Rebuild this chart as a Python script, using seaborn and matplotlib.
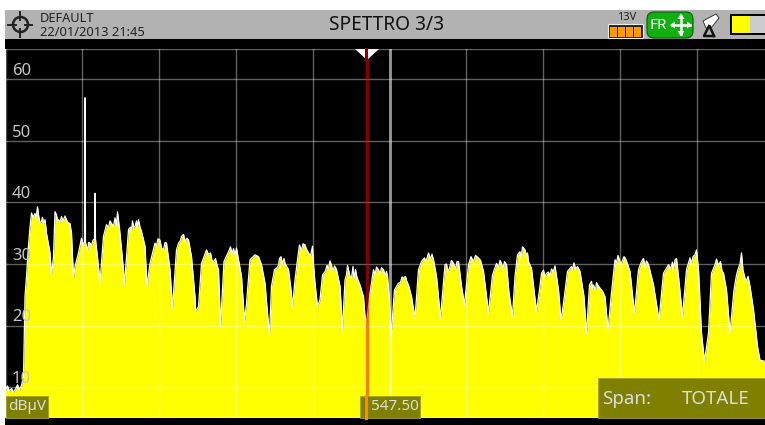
import matplotlib
matplotlib.use("Agg")
import matplotlib.pyplot as plt
from matplotlib.patches import Rectangle, Circle, FancyBboxPatch, Polygon
import seaborn as sns
import numpy as np
import pandas as pd

# trace: column of the display, level in dBuV
columns = [0, 2, 4, 6, 8, 10, 12, 14, 16, 18, 19.5, 21, 23, 24.5, 26, 29.5, 32, 36, 39.5, 41, 44.5, 46, 48, 49.5,
           53, 56, 59.5, 64.5, 66, 68, 69.5, 73, 76, 79, 79.5, 80, 81, 84.5, 89, 89.5, 90, 93, 94.5, 98, 101, 106,
           112, 114.5, 118, 119, 123, 127, 129.5, 133, 136, 139.5, 141.5, 144.5, 149.5, 154.5, 158, 161, 164.5,
           167, 171, 176, 183, 186, 189.5, 190, 193, 196, 201, 208, 213, 215, 218.5, 223, 228, 233, 236, 239, 241,
           244.5, 249.5, 253, 256, 259.5, 262, 264, 266, 269, 271, 275.5, 279.5, 283, 285.5, 287, 289.5, 292, 294,
           299.5, 303, 307, 308, 309.5, 312, 314.5, 317, 323, 324.5, 331, 334.5, 337, 339.5, 343, 346, 350, 354.5,
           358, 359.5, 361, 364.5, 368, 373, 378, 382, 384, 385.5, 389, 393, 398, 403, 406, 409.5, 413, 416, 423,
           428, 431, 435, 439.5, 444.5, 448, 453, 456, 459, 463, 465.5, 473, 478, 481, 483, 487, 491, 496, 501,
           503.5, 507, 509.5, 512, 514.5, 519.5, 523, 526, 528.5, 531, 534, 536, 541, 549.5, 553, 555.5, 558, 562,
           568.5, 574.5, 578.5, 581, 584, 588, 593, 599.5, 602.5, 606, 609.5, 614.5, 618.5, 624.5, 629, 633, 636,
           643, 648, 653.5, 658, 663, 669.5, 673, 677, 681, 684.5, 689.5, 693, 696, 699, 703, 706, 709.5, 718, 721,
           724.5, 728.5, 734.5, 739.5, 744.5, 748, 752, 754.5, 759.5]
levels = [9.6, 10.2, 9.4, 9.8, 9.2, 9.7, 10.4, 9.6, 10.3, 11.7, 24.7, 28, 33, 36, 38.3, 38.2, 39.3, 37, 37.2, 35,
          31.8, 28.2, 31.2, 38.5, 37.2, 37.7, 37.8, 36.6, 35, 27.7, 29.6, 31.8, 34.2, 33.5, 57, 33.5, 32.9, 33.4,
          34, 41.5, 34, 29.6, 26.9, 34.5, 36.4, 36.6, 38.5, 35, 29, 26.6, 35.6, 37, 36.1, 37.2, 35.3, 32.9, 26.4,
          30.1, 33.4, 33.9, 32.3, 33.4, 29.1, 22.8, 32.3, 34.5, 33.9, 31.2, 24.7, 22.3, 23.1, 30.1, 32.3, 30.4,
          29.1, 19.9, 30.4, 32, 32.5, 30.7, 28, 20.7, 23.6, 30.7, 31.5, 31.2, 29.9, 26.9, 22, 18.5, 26.4, 29.1,
          29.3, 31.2, 30.1, 29.1, 25.8, 23.1, 27.4, 30.7, 33.1, 33.1, 31.8, 32.9, 30, 26.9, 23.1, 24.2, 28.2,
          29.3, 30.5, 29.1, 26.4, 19.3, 27.4, 29.1, 27.7, 29.1, 26.6, 24.7, 21.5, 20.4, 25.3, 29.1, 29.1, 29.1,
          28, 24.2, 18.2, 25.8, 26.9, 27.7, 26.6, 24.7, 21.2, 29.1, 30.4, 31.8, 30.7, 28, 21.2, 29.9, 29.6, 30.1,
          30.4, 26.4, 23.4, 29.9, 31.2, 31, 28.8, 24.7, 22.1, 28.2, 30.1, 30.1, 29.9, 25.3, 21.5, 28, 31.5, 32,
          32.3, 30.4, 29.3, 25.8, 22.3, 25.8, 28.5, 28.5, 29.7, 25.8, 20.9, 23.6, 28.8, 30.2, 28.8, 24.7, 18.7,
          26.6, 26.6, 26.4, 24.7, 19.3, 25.3, 30.7, 30.4, 31.2, 28.8, 22, 29.1, 30.4, 29.9, 26.6, 20.9, 28.5,
          29.9, 30.7, 28, 21.5, 29.1, 31, 31.5, 29.1, 18.8, 14.2, 18.8, 28.5, 29.9, 28.5, 25.8, 18.8, 25.8, 30,
          27.7, 26.4, 22.6, 16.6, 14.4, 14.2]

# the small ripple along the top of each channel
ripple_columns = [27.5, 30.5, 33, 34.5, 37, 38, 51, 52, 54.5, 57.5, 61, 62.5, 77.5, 82.5, 83, 86, 87.5, 103, 104.5,
                  108, 109.5, 111, 125, 126, 128, 131, 132, 134.5, 151, 152.5, 156, 159.5, 173, 175, 178, 180, 181.5,
                  203, 205, 206.5, 210, 211.5, 225, 226.5, 229.5, 231, 273, 274, 277, 278.5, 296, 297.5, 301, 305,
                  320, 321.5, 326, 327.5, 329, 341, 342, 344.5, 347.5, 348.5, 351.5, 369.5, 371, 374.5, 376, 379.5,
                  381, 395, 396.5, 400, 401.5, 419, 420.5, 425, 426.5, 441, 442.5, 446, 450, 451.5, 468, 470, 475,
                  476, 489, 493, 494.5, 497.5, 499, 515.5, 517, 521, 522, 538, 539.5, 543, 544.5, 546, 548, 564, 566,
                  567, 570, 572, 586, 587, 590, 591, 595, 597, 611, 612.5, 616, 617.5, 620, 622, 638, 639.5, 641, 665,
                  667, 668, 671, 686, 687.5, 691, 711, 713, 715, 716.5, 731, 733, 736, 737.5, 741, 742.5]
ripple_levels = [37.6, 37.4, 38, 36.6, 37.6, 36.5, 38, 37, 36.8, 37, 37.2, 36.7, 33.3, 32.2, 33.5, 33, 33.9, 35.9, 37,
                 36.1, 37.5, 36.4, 36, 35.2, 36, 37, 35.8, 36, 33, 34.1, 32.6, 33.5, 33.4, 33.8, 34.8, 33.6, 34.2,
                 31.6, 31.8, 30.6, 30.9, 29.8, 32.8, 31.6, 31.5, 32.6, 29.8, 30.9, 30, 30.9, 32.2, 33.3, 32.4, 31.3,
                 28.9, 29.8, 29.8, 28.8, 29.7, 28.3, 29.8, 28, 29.6, 27.6, 27.8, 28.2, 29.5, 28.4, 29.4, 28.2, 28.8,
                 27, 27.9, 28, 27.1, 31, 30.4, 30.8, 31.6, 30, 28.7, 30.6, 29.2, 30.4, 30.4, 31.4, 30.6, 30, 29.2,
                 29.4, 30.6, 29.2, 30.4, 30.9, 32.8, 31.3, 31.8, 29, 27.9, 28.7, 28, 29.2, 28.8, 29.2, 29.6, 29, 29.2,
                 29.6, 27.2, 26, 25.7, 27, 26, 25.6, 30.2, 31.4, 30.1, 30.8, 30.9, 30, 30.9, 29.6, 30.5, 29.2, 30.3,
                 29, 30.9, 30.1, 31.2, 32.3, 30.8, 29.8, 30.4, 28.9, 28.2, 29.4, 31.8, 29, 27.2, 28]

y_ticks = [10, 20, 30, 40, 50, 60]
grid_columns = [76, 153, 230, 307, 460, 537, 614, 691]
centre_column = 384.5
marker_column = 361
marker_label = "547.50"
unit_label = "dBµV"

trace = pd.DataFrame({"column": columns + ripple_columns, "level": levels + ripple_levels}).sort_values("column")

W, H = 765, 425
FONT = ["Noto Sans", "DejaVu Sans"]
plt.rcParams["font.family"] = FONT

fig = plt.figure(figsize=(W / 100, H / 100), dpi=100, facecolor="white")

# plot area, black with the level scale running 5 to 65
ax = fig.add_axes([5.5 / W, 1 - 418 / H, (W - 5.5) / W, (418 - 48.5) / H])
ax.set_facecolor("black")
ax.set_xlim(0, W - 5.5)
ax.set_ylim(5, 65)
for s in ax.spines.values():
    s.set_visible(False)
ax.set_xticks([])
ax.set_yticks([])

ax.fill_between(trace["column"], trace["level"], 0, color="#ffff00", lw=0, zorder=2)
sns.lineplot(data=trace, x="column", y="level", color="white", lw=0.9, ax=ax, zorder=3, legend=False,
             estimator=None, sort=False)
ax.set_xlabel("")
ax.set_ylabel("")

for c in grid_columns:
    ax.axvline(c, color="white", alpha=0.38, lw=1, zorder=4)
for v in y_ticks:
    ax.axhline(v, color="white", alpha=0.38, lw=1, zorder=4)
ax.axhline(64.9, color="white", alpha=0.38, lw=1, zorder=4)
ax.axhline(5.1, color="white", alpha=0.5, lw=1, zorder=4)
ax.axvline(0, color="white", alpha=0.3, lw=1, zorder=4)
ax.axvline(centre_column, color="white", alpha=0.6, lw=2, zorder=4)
ax.axvline(marker_column, color="#ff0000", alpha=0.52, lw=2.2, zorder=5)

for v in y_ticks:
    ax.text(6.5, v + 0.05, str(v), color="#c4c4c4", fontsize=12, va="bottom", ha="left", zorder=6)

# screen furniture, placed in pixels
ov = fig.add_axes([0, 0, 1, 1], facecolor="none")
ov.set_xlim(0, W)
ov.set_ylim(H, 0)
ov.axis("off")

ov.add_patch(Rectangle((5, 10), W - 5, 29, color="#b2b2b2", lw=0))
ov.add_patch(Rectangle((5, 39), W - 5, 9.5, color="black", lw=0))
ov.add_patch(Rectangle((5, 418), W - 5, 7, color="black", lw=0))

# target icon
ov.add_patch(Circle((20.5, 24.5), 7.5, fc="none", ec="#222222", lw=1.8))
ov.plot([8.5, 16], [24.5, 24.5], color="#222222", lw=1.4)
ov.plot([25, 32.5], [24.5, 24.5], color="#222222", lw=1.4)
ov.plot([20.5, 20.5], [12, 20], color="#222222", lw=1.4)
ov.plot([20.5, 20.5], [29, 37], color="#222222", lw=1.4)

ov.text(40, 18, "DEFAULT", fontsize=9.2, color="#222222", va="center", ha="left")
ov.text(40, 32.5, "22/01/2013 21:45", fontsize=9.3, color="#222222", va="center", ha="left")
ov.text(387, 25, "SPETTRO 3/3", fontsize=13.8, color="#111111", va="center", ha="center")

# power
ov.text(627, 17, "13V", fontsize=8, color="#222222", va="center", ha="center")
ov.add_patch(Rectangle((608.5, 24), 35, 14, fc="#222222", ec="#eeeeee", lw=0.8))
for bx in [610.5, 618.5, 626.5, 634.5]:
    ov.add_patch(Rectangle((bx, 26.5), 6.5, 10, color="#ff9a00", lw=0))

# FR badge
ov.add_patch(FancyBboxPatch((647, 12), 46, 26, boxstyle="round,pad=0,rounding_size=7", fc="#10b010", ec="#0a5a0a", lw=0.8))
ov.text(658, 25, "FR", fontsize=11, color="white", va="center", ha="center")
ov.plot([672, 690], [25, 25], color="white", lw=1.8)
ov.plot([681, 681], [16, 34], color="white", lw=1.8)
ov.add_patch(Polygon([(670, 25), (675, 21.5), (675, 28.5)], color="white", lw=0))
ov.add_patch(Polygon([(692, 25), (687, 21.5), (687, 28.5)], color="white", lw=0))
ov.add_patch(Polygon([(681, 13.5), (677.5, 19), (684.5, 19)], color="white", lw=0))
ov.add_patch(Polygon([(681, 36.5), (677.5, 31), (684.5, 31)], color="white", lw=0))

# antenna
ov.add_patch(Polygon([(703, 21), (716, 14), (719, 18), (712, 27), (706, 28)], color="white", ec="#222222", lw=0.6))
ov.plot([709, 704, 714], [26, 36, 36], color="#111111", lw=1.8)
ov.plot([710, 714], [27, 36], color="#111111", lw=1.8)

# level bar
ov.add_patch(Rectangle((731, 15), 40, 18.5, fc="#cccccc", ec="black", lw=1.4))
ov.add_patch(Rectangle((732, 16), 18, 16.5, color="#ffff00", lw=0))

# marker flag
ov.add_patch(Polygon([(355, 49), (379, 49), (367, 60)], color="white", lw=0))
ov.plot([366.5, 366.5], [49, 60], color="#8b0000", lw=2.2)

# readout boxes
ov.add_patch(Rectangle((6, 396), 42, 21.5, fc="#808000", ec="#a0a030", lw=0.6))
ov.text(8.5, 407, unit_label, fontsize=11, color="#dcdcdc", va="center", ha="left")
ov.add_patch(Rectangle((360, 396), 60, 21.5, fc="#808000", ec="#a0a030", lw=0.6, zorder=2))
ov.plot([366.5, 366.5], [396, 418], color="#ff8c00", lw=2.2, zorder=3)
ov.text(371.5, 407, marker_label, fontsize=11, color="#dcdcdc", va="center", ha="left", zorder=4)
ov.add_patch(Rectangle((598, 378), 167, 39.5, fc="#808000", ec="#a0a030", lw=0.6))
ov.text(602, 399, "Span:", fontsize=13.5, color="#dcdcdc", va="center", ha="left")
ov.text(682, 399, "TOTALE", fontsize=13.5, color="#dcdcdc", va="center", ha="left")

fig.savefig("out.png", dpi=100, facecolor="white")
